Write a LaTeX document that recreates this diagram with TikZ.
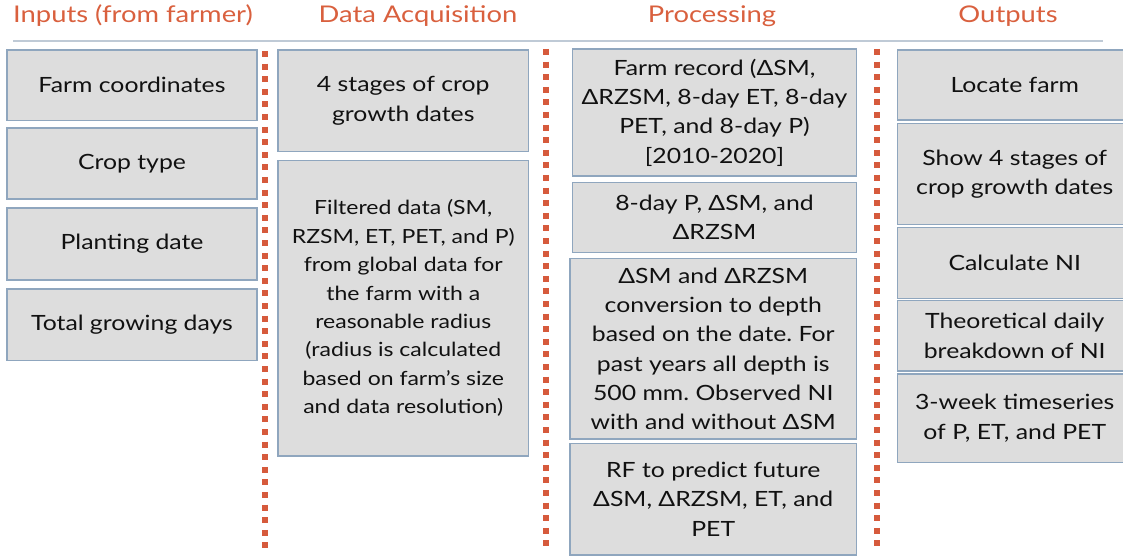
\documentclass[tikz,border=0pt]{standalone}
\usepackage{fontspec}
\setmainfont{Lato}[FakeStretch=1.18]
\newfontfamily\headfont{Lato}[FakeStretch=1.19]
\frenchspacing
\definecolor{boxfill}{HTML}{DDDDDD}
\definecolor{boxline}{HTML}{8FA6BE}
\definecolor{headc}{HTML}{D9603E}
\definecolor{dotc}{HTML}{D65A3C}
\definecolor{rulec}{HTML}{BFCAD6}
\definecolor{txtc}{HTML}{111111}
\tikzset{
  box/.style={draw=boxline, fill=boxfill, line width=1.2pt, inner sep=0pt, align=center,
    text=txtc, font=\fontsize{21}{29.3}\selectfont},
  smallbox/.style={box, font=\fontsize{19.5}{28.4}\selectfont},
  head/.style={text=headc, font=\headfont\fontsize{23}{26}\selectfont, anchor=base},
  sep/.style={draw=dotc, line width=6pt, dash pattern=on 6pt off 6.6pt},
}
\newcommand{\mybox}[7][box]{%
  \node[#1, minimum width={(#5)-(#3)}, minimum height={(#6)-(#4)}] (#2) at ({((#3)+(#5))/2},{((#4)+(#6))/2}) {#7};}
\begin{document}
\begin{tikzpicture}[x=1pt,y=-1pt]
\useasboundingbox (0,0) rectangle (1123,556);
% headers
\node[head] (h1) at (133,23) {Inputs (from farmer)};
\node[head] (h2) at (418,23) {Data Acquisition};
\node[head] (h3) at (712,23) {Processing};
\node[head] (h4) at (1008,23) {Outputs};
\coordinate (rl) at (13,41.5);
\coordinate (rr) at (1103,41.5);
\draw[rulec, line width=2pt] (rl) -- (rr);
% separators
\coordinate (s1t) at (264.5,51); \coordinate (s1b) at (264.5,550);
\coordinate (s2t) at (546,49); \coordinate (s2b) at (546,550);
\coordinate (s3t) at (876.5,49); \coordinate (s3b) at (876.5,550);
\draw[sep] (s1t) -- (s1b);
\draw[sep] (s2t) -- (s2b);
\draw[sep] (s3t) -- (s3b);
% column 1
\mybox{fc}{7}{50}{257}{120.5}{Farm coordinates}
\mybox{ct}{7}{128}{257}{199}{Crop type}
\mybox{pd}{7}{208}{257}{280}{Planting date}
\mybox{tg}{7}{289}{257}{360.5}{Total growing days}
% column 2
\mybox{st}{278}{50}{528.5}{151.5}{4 stages of crop\\growth dates}
\mybox[smallbox]{fd}{278}{160.5}{528.5}{456}{Filtered data (SM,\\RZSM, ET, PET, and P)\\from global data for\\the farm with a\\reasonable radius\\(radius is calculated\\based on farm's size\\and data resolution)}
% column 3
\mybox{fr}{572.5}{49}{856.5}{176}{Farm record (ΔSM,\\ΔRZSM, 8-day ET, 8-day\\PET, and 8-day P)\\{}[2010-2020]}
\mybox{pe}{572.5}{182.5}{856.5}{252.5}{8-day P, ΔSM, and\\ΔRZSM}
\mybox{cv}{570}{258.5}{856.5}{439}{ΔSM and ΔRZSM\\conversion to depth\\based on the date. For\\past years all depth is\\500 mm. Observed NI\\with and without ΔSM}
\mybox{rf}{570}{443.5}{856.5}{555}{RF to predict future\\ΔSM, ΔRZSM, ET, and\\PET}
% column 4
\mybox{lf}{897.5}{50}{1132}{120}{Locate farm}
\mybox{sg}{897.5}{123.5}{1132}{224.5}{Show 4 stages of\\crop growth dates}
\mybox{cn}{897.5}{227.5}{1132}{298.5}{Calculate NI}
\mybox{th}{897.5}{300.5}{1132}{371}{Theoretical daily\\breakdown of NI}
\mybox{tw}{897.5}{374}{1132}{462.5}{3-week timeseries\\of P, ET, and PET}
\end{tikzpicture}
\end{document}
